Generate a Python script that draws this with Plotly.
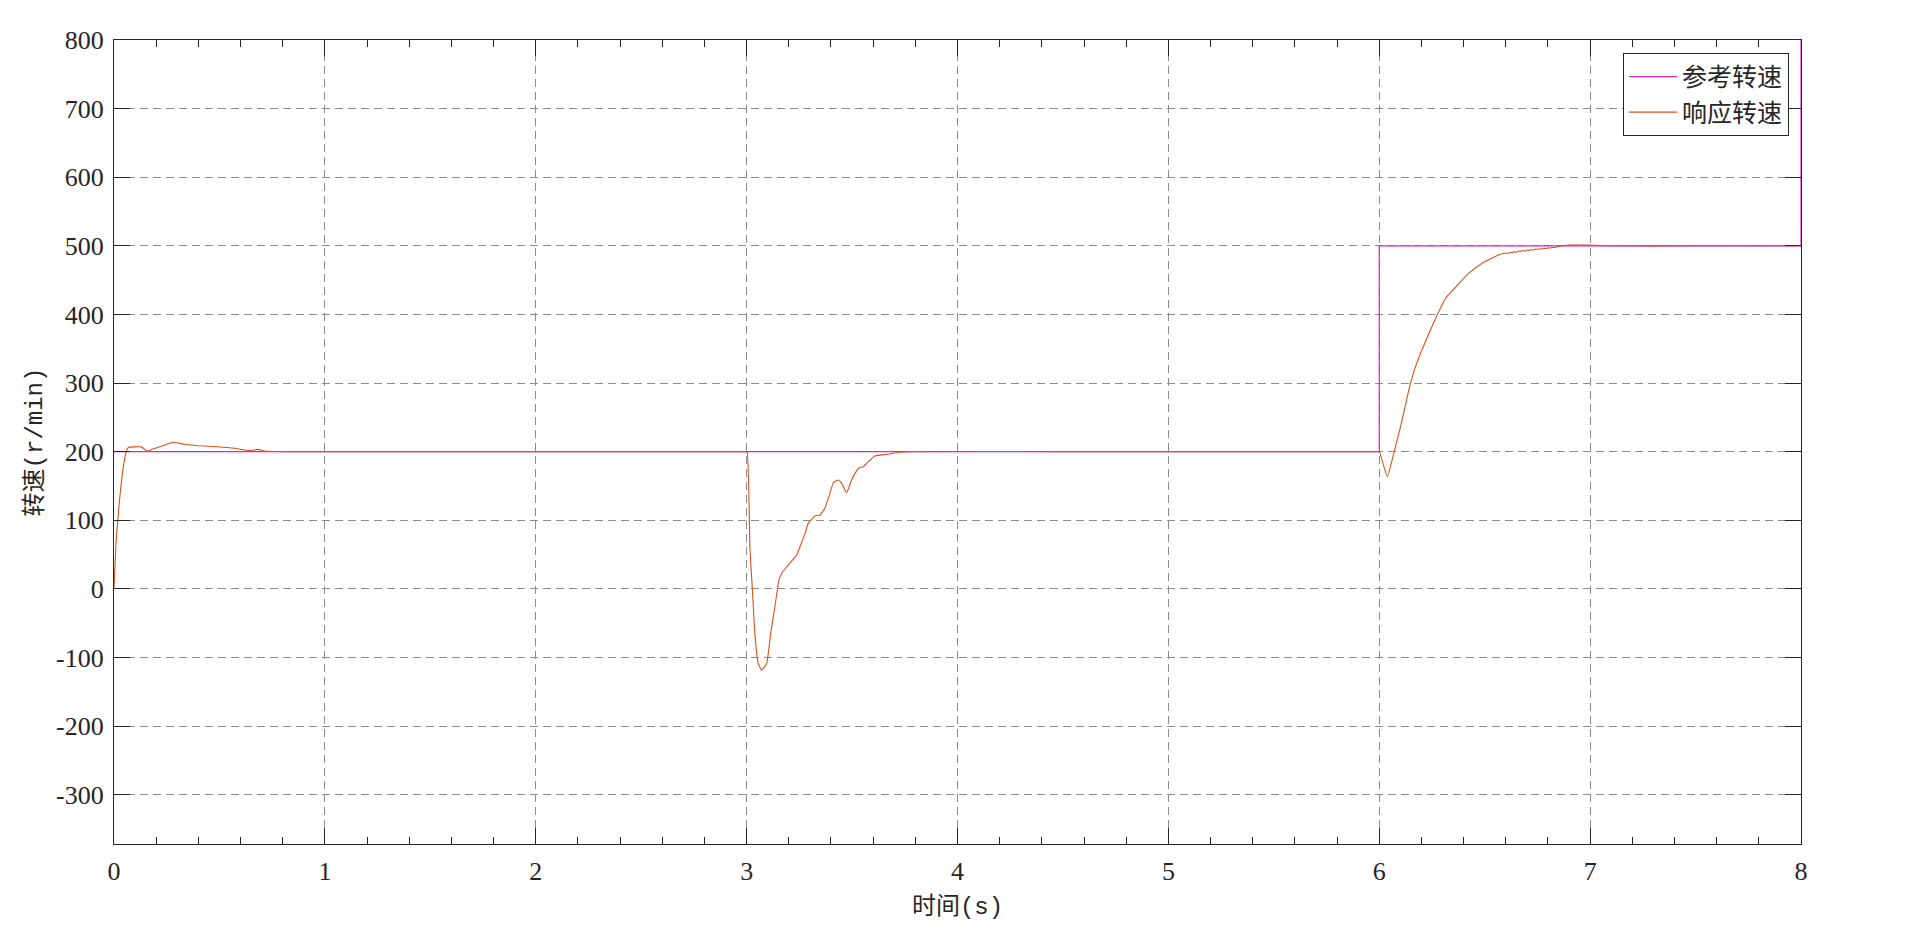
import plotly.graph_objects as go

# Reference speed (r/min)
ref_t = [0, 6.0, 6.0, 8.0, 8.0]
ref_v = [200, 200, 500, 500, 800]

# Response speed (r/min)
resp_t = [0, 0.0104, 0.0262, 0.042, 0.0578, 0.0689, 0.10, 0.129, 0.145, 0.1606, 0.184, 0.2317,
          0.279, 0.334, 0.398, 0.4925, 0.572, 0.619, 0.65, 0.682, 0.714, 0.80, 1.5, 2.5, 2.95,
          2.99, 2.998,
          3.003, 3.016, 3.027, 3.039, 3.055, 3.071, 3.095, 3.114, 3.134, 3.153, 3.166, 3.190,
          3.237, 3.253, 3.277, 3.292, 3.324, 3.348, 3.371, 3.395, 3.411, 3.435, 3.451, 3.474,
          3.498, 3.514, 3.534, 3.553, 3.577, 3.609, 3.664, 3.727, 3.775, 4.5, 5.5, 5.9, 5.96,
          5.99, 6.0,
          6.038, 6.069, 6.101, 6.133, 6.148, 6.172, 6.196, 6.236, 6.275, 6.314, 6.362, 6.425,
          6.488, 6.568,
          6.60, 6.61, 6.62, 6.63, 6.64, 6.65, 6.66, 6.67, 6.68, 6.69, 6.70, 6.71, 6.72, 6.73,
          6.74, 6.75, 6.76, 6.77, 6.78, 6.79, 6.80, 6.81, 6.82, 6.83, 6.84,
          6.868, 6.900, 6.995, 7.1, 7.5, 8.0]
resp_v = [0, 71, 129.2, 173, 200, 206.3, 206.9, 206.9, 203.5, 200.8, 203.8, 208.6,
          213.6, 210.6, 208.6, 207.1, 204.8, 202.4, 201.5, 203.3, 200.8, 200, 200, 200, 200,
          200, 200,
          199.9, 56.5, 0.5, -65, -108.8, -118.6, -108.8, -65, -26.3, 12.7, 22.4, 32.1,
          49.2, 61.3, 80.8, 95.4, 106.1, 107.5, 117.3, 139.2, 154.6, 158.6, 153.7, 140.1,
          158.6, 168.3, 176.5, 178, 185.3, 193.6, 196, 199, 200, 200, 200, 200, 200,
          200, 199.9,
          163.4, 197.5, 236.3, 280.1, 299.6, 323.9, 343.4, 372.6, 399.3, 423.6, 439.7, 460.1,
          474.7, 486.8,
          489.6, 488.8, 490.6, 489.8, 491.5, 490.7, 492.3, 491.6, 493.1, 492.4, 493.8, 493.2,
          494.5, 493.9, 495.1, 494.6, 495.8, 495.3, 496.4, 496.0, 497.0, 496.7, 497.6, 497.3,
          498.2,
          500, 501, 501, 500, 500, 500]

x_ticks = [0, 1, 2, 3, 4, 5, 6, 7, 8]
y_ticks = [-300, -200, -100, 0, 100, 200, 300, 400, 500, 600, 700, 800]

NUM_FONT = "Liberation Serif, Times New Roman, serif"
CJK_FONT = "Noto Sans CJK SC, serif"
LAT = "<span style='font-family:Liberation Mono'>{}</span>"
INK = "#262626"

fig = go.Figure()
fig.add_trace(go.Scatter(x=ref_t, y=ref_v, mode="lines", name="参考转速",
                         line=dict(color="#e020e0", width=1.2)))
fig.add_trace(go.Scatter(x=resp_t, y=resp_v, mode="lines", name="响应转速",
                         line=dict(color="#D95319", width=1.1, shape="spline", smoothing=0.4)))

axis_common = dict(
    showline=True, linecolor=INK, linewidth=1.3, mirror="ticks",
    ticks="inside", ticklen=16, tickcolor=INK, tickwidth=1.3,
    showgrid=True, gridcolor="#8c8c8c", gridwidth=1, griddash="8px,5px",
    zeroline=False, tickfont=dict(family=NUM_FONT, size=26, color=INK),
)

fig.update_xaxes(
    range=[0, 8], tickvals=x_ticks, ticktext=[str(v) for v in x_ticks],
    minor=dict(ticks="inside", ticklen=7, dtick=0.2, tick0=0, tickcolor=INK,
               tickwidth=1.3, showgrid=False),
    title=dict(text="时间" + LAT.format("(s)"), font=dict(family=CJK_FONT, size=24, color=INK),
               standoff=2),
    ticklabelstandoff=4,
    **axis_common,
)
fig.update_yaxes(
    range=[-372, 800], tickvals=y_ticks, ticktext=[str(v) for v in y_ticks],
    title=dict(text="转速" + LAT.format("(r/min)"), font=dict(family=CJK_FONT, size=24, color=INK),
               standoff=6),
    ticklabelstandoff=4,
    **axis_common,
)

# top axis carrying the mirrored minor ticks
fig.update_layout(xaxis2=dict(
    overlaying="x", side="top", range=[0, 8], tickvals=x_ticks, showticklabels=False,
    ticks="inside", ticklen=16, tickcolor=INK, tickwidth=1.3, showgrid=False, zeroline=False,
    showline=False,
    minor=dict(ticks="inside", ticklen=7, dtick=0.2, tick0=0, tickcolor=INK, tickwidth=1.3,
               showgrid=False),
))
fig.add_trace(go.Scatter(x=[0, 8], y=[None, None], xaxis="x2", showlegend=False,
                         hoverinfo="skip", mode="lines"))

fig.update_layout(
    width=1896, height=916,
    margin=dict(l=106, r=103, t=32, b=80),
    paper_bgcolor="white", plot_bgcolor="white",
    showlegend=True,
    legend=dict(x=0.9929, y=0.984, xanchor="right", yanchor="top",
                bgcolor="white", bordercolor=INK, borderwidth=1,
                font=dict(family=CJK_FONT, size=25, color=INK),
                tracegroupgap=0, itemwidth=48),
)

fig.write_html("out.html")
